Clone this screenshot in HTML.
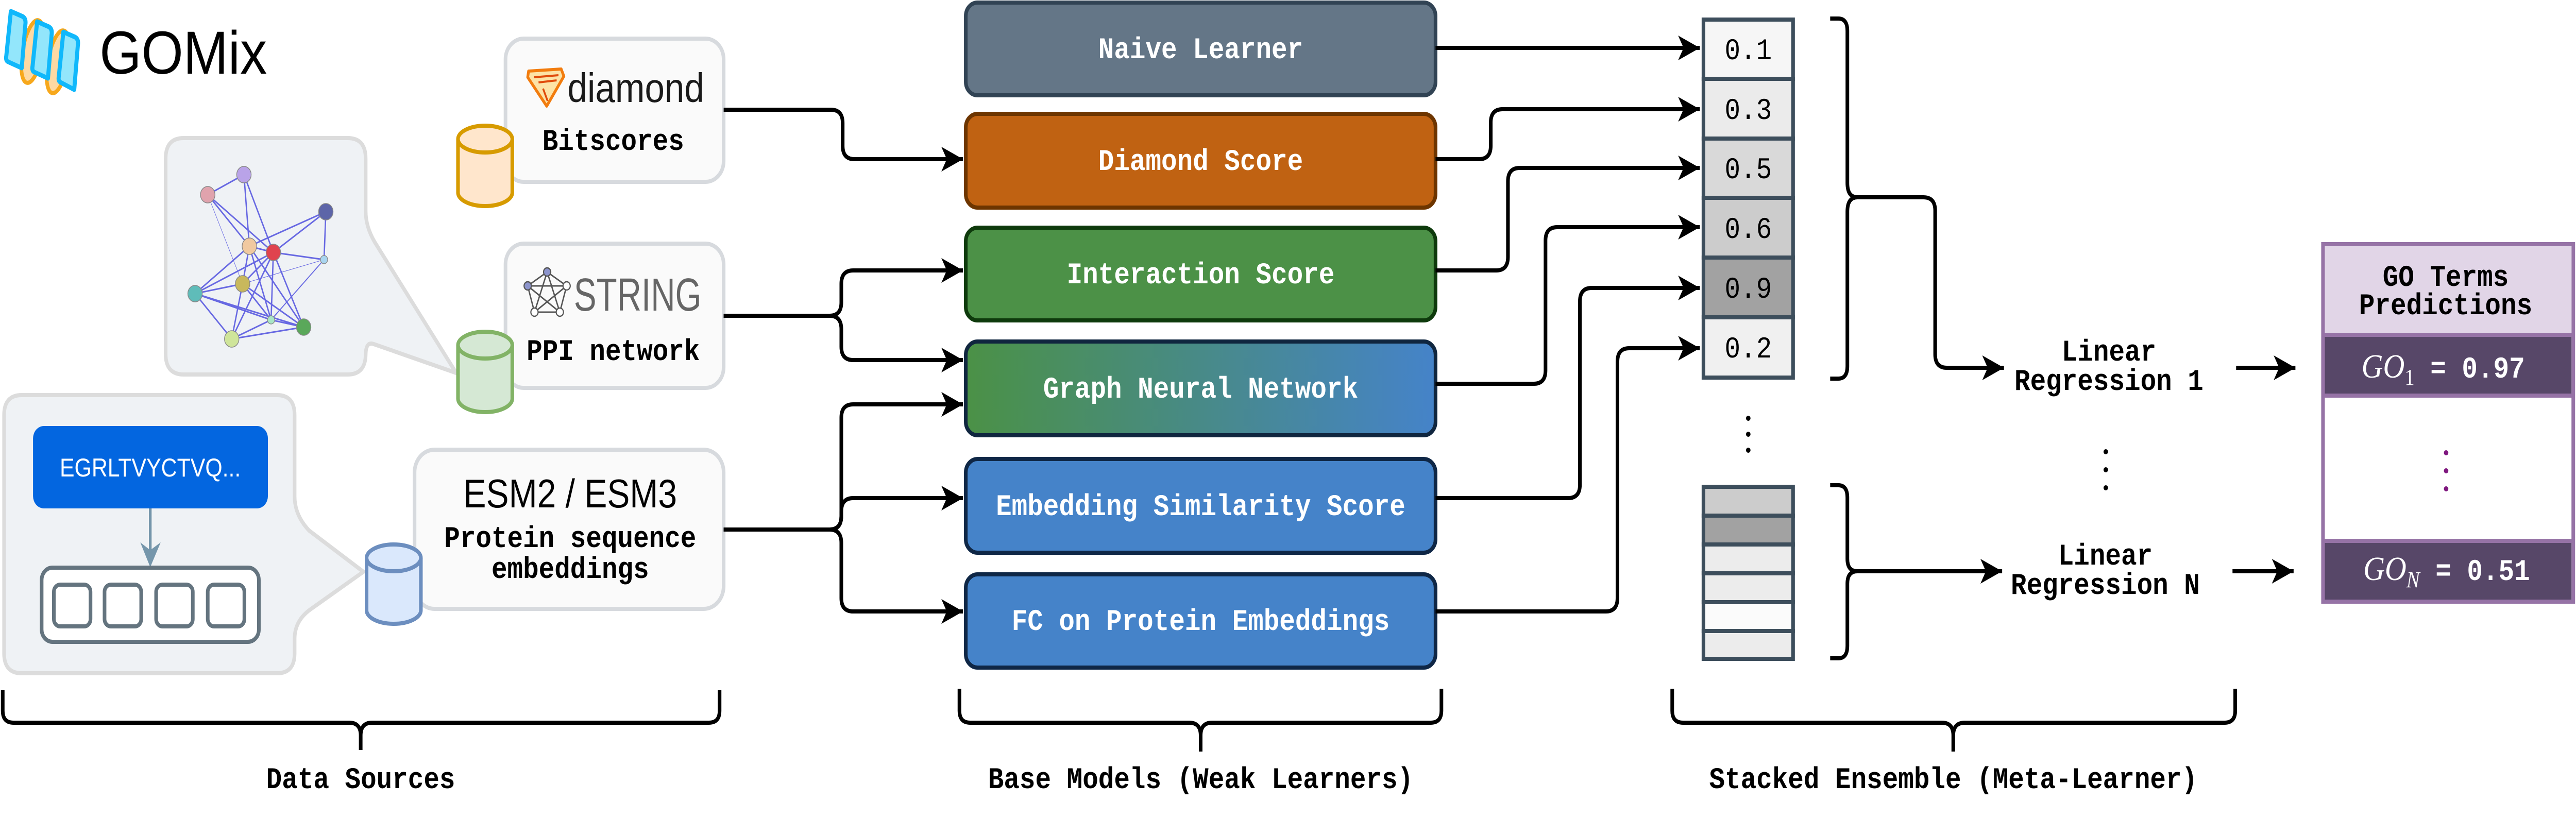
<!DOCTYPE html>
<html><head><meta charset="utf-8"><style>
html,body{margin:0;padding:0;background:#fff;overflow:hidden;width:100%;height:100%;}
svg{display:block;width:100vw;height:100vh;}
.m{font-family:"Liberation Mono",monospace;font-weight:bold;font-size:58px;}
.s{font-family:"Liberation Sans",sans-serif;}
</style></head><body>
<svg viewBox="0 0 5692 1588" preserveAspectRatio="none" xmlns="http://www.w3.org/2000/svg">
<defs>
<marker id="ar" markerUnits="userSpaceOnUse" markerWidth="50" markerHeight="50" refX="48" refY="24" orient="auto">
<path d="M0,0 L48,24 L0,48 L12,24 Z" fill="#000"/>
</marker>
<linearGradient id="gnn" x1="0" x2="1" y1="0" y2="0">
<stop offset="0" stop-color="#4b9146"/><stop offset="1" stop-color="#4583c9"/>
</linearGradient>
</defs>

<!-- Logo -->
<g>
<ellipse cx="72" cy="100" rx="22" ry="62" fill="#fdd9a3" stroke="#f7a81c" stroke-width="8" transform="rotate(12 72 100)"/>
<ellipse cx="128" cy="120" rx="22" ry="62" fill="#fdd9a3" stroke="#f7a81c" stroke-width="8" transform="rotate(12 128 120)"/>
<path d="M24,22 L50,32 Q58,36 56,48 L48,132 L18,120 Q12,118 14,108 Z" fill="#93e6fb" stroke="#10b8fb" stroke-width="9" stroke-linejoin="round"/>
<path d="M82,42 L108,52 Q116,56 114,68 L106,152 L76,140 Q70,138 72,128 Z" fill="#93e6fb" stroke="#10b8fb" stroke-width="9" stroke-linejoin="round"/>
<path d="M140,62 L166,72 Q174,76 172,88 L164,174 L134,160 Q128,158 130,148 Z" fill="#93e6fb" stroke="#10b8fb" stroke-width="9" stroke-linejoin="round"/>
<text x="220" y="143" class="s" font-size="118" fill="#000" textLength="370" lengthAdjust="spacingAndGlyphs">GOMix</text>
</g>

<!-- PPI callout -->
<path d="M406,268 H768 Q808,268 808,308 V410 Q808,440 828,470 L1008,724 L826,668 Q808,662 808,690 V687 Q808,727 768,727 H406 Q366,727 366,687 V308 Q366,268 406,268 Z" fill="#eff2f5" stroke="#dcdcdc" stroke-width="8" stroke-linejoin="round"/>
<g stroke="#3a3adc" stroke-width="3" opacity="0.75" fill="none">
<line x1="539" y1="339" x2="459" y2="378"/><line x1="539" y1="339" x2="604" y2="490"/><line x1="539" y1="339" x2="551" y2="478"/>
<line x1="459" y1="378" x2="551" y2="478"/><line x1="459" y1="378" x2="604" y2="490"/><line x1="459" y1="378" x2="536" y2="551" stroke-width="1"/>
<line x1="720" y1="411" x2="551" y2="478"/><line x1="720" y1="411" x2="604" y2="490"/><line x1="720" y1="411" x2="716" y2="504"/>
<line x1="551" y1="478" x2="604" y2="490"/><line x1="551" y1="478" x2="431" y2="570"/><line x1="551" y1="478" x2="536" y2="551"/><line x1="551" y1="478" x2="671" y2="635"/><line x1="551" y1="478" x2="599" y2="621"/>
<line x1="604" y1="490" x2="716" y2="504"/><line x1="604" y1="490" x2="431" y2="570"/><line x1="604" y1="490" x2="536" y2="551"/><line x1="604" y1="490" x2="512" y2="658"/><line x1="604" y1="490" x2="671" y2="635"/><line x1="604" y1="490" x2="599" y2="621"/>
<line x1="716" y1="504" x2="599" y2="621" stroke-width="2"/><line x1="716" y1="504" x2="536" y2="551" stroke-width="1"/>
<line x1="536" y1="551" x2="431" y2="570"/><line x1="536" y1="551" x2="512" y2="658"/><line x1="536" y1="551" x2="671" y2="635"/><line x1="536" y1="551" x2="599" y2="621"/>
<line x1="431" y1="570" x2="512" y2="658"/><line x1="431" y1="570" x2="599" y2="621"/><line x1="431" y1="570" x2="671" y2="635"/>
<line x1="512" y1="658" x2="671" y2="635"/><line x1="512" y1="658" x2="599" y2="621"/><line x1="599" y1="621" x2="671" y2="635"/>
</g>
<g stroke="#888" stroke-width="1.5">
<circle cx="539" cy="339" r="16" fill="#b9a3e8"/><circle cx="459" cy="378" r="16" fill="#e0a3ad"/>
<circle cx="720" cy="411" r="16" fill="#5d65a8"/><circle cx="551" cy="478" r="16" fill="#f0c9a0"/>
<circle cx="604" cy="490" r="16" fill="#e0434e"/><circle cx="716" cy="504" r="8" fill="#a9d5ef"/>
<circle cx="536" cy="551" r="16" fill="#c8b85c"/><circle cx="431" cy="570" r="16" fill="#5fbcb9"/>
<circle cx="599" cy="621" r="8" fill="#a8e6c6"/><circle cx="671" cy="635" r="16" fill="#5aa85a"/>
<circle cx="512" cy="658" r="16" fill="#cfe59a"/>
</g>

<!-- Embedding callout -->
<path d="M48,767 H612 Q651,767 651,806 V964 Q651,1000 683,1030 L803,1110 L686,1183 Q651,1205 651,1240 V1268 Q651,1307 612,1307 H48 Q9,1307 9,1268 V806 Q9,767 48,767 Z" fill="#eff2f5" stroke="#dcdcdc" stroke-width="8" stroke-linejoin="round"/>
<rect x="73" y="827" width="519" height="160" rx="24" fill="#0366e0"/>
<text x="332" y="925" class="s" font-size="50" fill="#fff" text-anchor="middle" textLength="400" lengthAdjust="spacingAndGlyphs">EGRLTVYCTVQ...</text>
<line x1="332" y1="987" x2="332" y2="1080" stroke="#7596ab" stroke-width="6"/>
<path d="M310,1053 L332,1101 L355,1053 L332,1068 Z" fill="#7596ab"/>
<rect x="92" y="1102" width="480" height="144" rx="24" fill="#fff" stroke="#64747f" stroke-width="8"/>
<rect x="119" y="1135" width="81" height="81" rx="14" fill="#fff" stroke="#64747f" stroke-width="8"/>
<rect x="231" y="1135" width="81" height="81" rx="14" fill="#fff" stroke="#64747f" stroke-width="8"/>
<rect x="345" y="1135" width="81" height="81" rx="14" fill="#fff" stroke="#64747f" stroke-width="8"/>
<rect x="459" y="1135" width="81" height="81" rx="14" fill="#fff" stroke="#64747f" stroke-width="8"/>

<!-- Data source boxes -->
<rect x="1117" y="75" width="482" height="278" rx="40" fill="#fafafa" stroke="#d7dade" stroke-width="8"/>
<path d="M1168,138 L1240,134 L1246,148 L1208,206 L1166,150 Z" fill="#fde3a6" stroke="#f27c0e" stroke-width="6" stroke-linejoin="round"/>
<path d="M1180,150 L1234,146 M1190,160 L1230,156 M1200,172 L1210,196" stroke="#e04a0a" stroke-width="4" fill="none"/>
<text x="1254" y="198" class="s" font-size="80" fill="#1a1a1a" textLength="302" lengthAdjust="spacingAndGlyphs">diamond</text>
<text x="1355" y="291" class="m" text-anchor="middle">Bitscores</text>

<rect x="1117" y="473" width="482" height="280" rx="40" fill="#fafafa" stroke="#d7dade" stroke-width="8"/>
<g stroke="#555" stroke-width="3" fill="none">
<path d="M1209,528 L1252,555 L1237,606 L1181,606 L1166,555 Z M1209,528 L1237,606 L1166,555 L1252,555 L1181,606 Z"/>
</g>
<g stroke="#555" stroke-width="2.5" fill="#fff">
<circle cx="1209" cy="528" r="8" fill="#8c94cc"/><circle cx="1252" cy="555" r="8"/><circle cx="1237" cy="606" r="8"/><circle cx="1181" cy="606" r="8"/><circle cx="1166" cy="555" r="8" fill="#8c94cc"/>
</g>
<text x="1268" y="603" class="s" font-size="90" fill="#666" textLength="282" lengthAdjust="spacingAndGlyphs">STRING</text>
<text x="1355" y="699" class="m" text-anchor="middle">PPI network</text>

<rect x="916" y="873" width="683" height="309" rx="44" fill="#fafafa" stroke="#d7dade" stroke-width="8"/>
<text x="1260" y="985" class="s" font-size="78" fill="#000" text-anchor="middle" textLength="472" lengthAdjust="spacingAndGlyphs">ESM2 / ESM3</text>
<text x="1260" y="1062" class="m" text-anchor="middle">Protein sequence</text>
<text x="1260" y="1122" class="m" text-anchor="middle">embeddings</text>

<!-- Cylinders -->
<g stroke-width="8">
<path d="M1012,270 V374 A60,26 0 0 0 1132,374 V270" fill="#ffe6cc" stroke="#d79b00"/>
<ellipse cx="1072" cy="270" rx="60" ry="26" fill="#ffe6cc" stroke="#d79b00"/>
<path d="M1012,670 V774 A60,26 0 0 0 1132,774 V670" fill="#d5e8d4" stroke="#82b366"/>
<ellipse cx="1072" cy="670" rx="60" ry="26" fill="#d5e8d4" stroke="#82b366"/>
<path d="M810,1083 V1185 A60,26 0 0 0 930,1185 V1083" fill="#dae8fc" stroke="#6c8ebf"/>
<ellipse cx="870" cy="1083" rx="60" ry="26" fill="#dae8fc" stroke="#6c8ebf"/>
</g>

<!-- Source -> base model connectors -->
<g fill="none" stroke="#000" stroke-width="8" stroke-linejoin="round">
<path d="M1599,213 H1836 Q1862,213 1862,239 V283 Q1862,309 1888,309 H2128" marker-end="url(#ar)"/>
<path d="M1599,613 H1833 Q1859,613 1859,587 V551 Q1859,525 1885,525 H2128" marker-end="url(#ar)"/>
<path d="M1599,613 H1833 Q1859,613 1859,639 V673 Q1859,699 1885,699 H2128" marker-end="url(#ar)"/>
<path d="M1599,1028 H1833 Q1859,1028 1859,1002 V811 Q1859,785 1885,785 H2128" marker-end="url(#ar)"/>
<path d="M1599,1028 H1833 Q1859,1028 1859,1002 V993 Q1859,967 1885,967 H2128" marker-end="url(#ar)"/>
<path d="M1599,1028 H1833 Q1859,1028 1859,1054 V1161 Q1859,1187 1885,1187 H2128" marker-end="url(#ar)"/>
</g>

<!-- Base models -->
<g stroke-width="8">
<rect x="2134" y="5" width="1038" height="180" rx="26" fill="#647687" stroke="#314354"/>
<rect x="2134" y="221" width="1038" height="182" rx="26" fill="#c06212" stroke="#6d3500"/>
<rect x="2134" y="442" width="1038" height="180" rx="26" fill="#4c9147" stroke="#0e3a0c"/>
<rect x="2134" y="663" width="1038" height="182" rx="26" fill="url(#gnn)" stroke="#10263f"/>
<rect x="2134" y="891" width="1038" height="182" rx="26" fill="#4583c9" stroke="#0f2746"/>
<rect x="2134" y="1115" width="1038" height="181" rx="26" fill="#4583c9" stroke="#0f2746"/>
</g>
<g class="m" fill="#fff" text-anchor="middle">
<text x="2653" y="113">Naive Learner</text>
<text x="2653" y="330">Diamond Score</text>
<text x="2653" y="550">Interaction Score</text>
<text x="2653" y="772">Graph Neural Network</text>
<text x="2653" y="1000">Embedding Similarity Score</text>
<text x="2653" y="1223">FC on Protein Embeddings</text>
</g>

<!-- base -> cells -->
<g fill="none" stroke="#000" stroke-width="8" stroke-linejoin="round">
<path d="M3172,93 H3756" marker-end="url(#ar)"/>
<path d="M3172,309 H3268 Q3294,309 3294,283 V238 Q3294,212 3320,212 H3756" marker-end="url(#ar)"/>
<path d="M3172,525 H3306 Q3332,525 3332,499 V352 Q3332,326 3358,326 H3756" marker-end="url(#ar)"/>
<path d="M3172,745 H3389 Q3415,745 3415,719 V467 Q3415,441 3441,441 H3756" marker-end="url(#ar)"/>
<path d="M3172,967 H3465 Q3491,967 3491,941 V585 Q3491,559 3517,559 H3756" marker-end="url(#ar)"/>
<path d="M3172,1187 H3548 Q3574,1187 3574,1161 V702 Q3574,676 3600,676 H3756" marker-end="url(#ar)"/>
</g>

<!-- cells -->
<g stroke="#3d4e5c" stroke-width="8">
<rect x="3764" y="38" width="198" height="115" fill="#f6f6f6"/>
<rect x="3764" y="153" width="198" height="116" fill="#ebebeb"/>
<rect x="3764" y="269" width="198" height="115" fill="#d9d9d9"/>
<rect x="3764" y="384" width="198" height="116" fill="#cccccc"/>
<rect x="3764" y="500" width="198" height="116" fill="#a2a2a2"/>
<rect x="3764" y="616" width="198" height="117" fill="#f0f0f0"/>
</g>
<g font-family="Liberation Mono,monospace" font-size="58" fill="#000" text-anchor="middle">
<text x="3863" y="115">0.1</text><text x="3863" y="231">0.3</text><text x="3863" y="346">0.5</text>
<text x="3863" y="462">0.6</text><text x="3863" y="578">0.9</text><text x="3863" y="694">0.2</text>
</g>
<g fill="#000"><circle cx="3863" cy="812" r="5"/><circle cx="3863" cy="843" r="5"/><circle cx="3863" cy="874" r="5"/></g>
<g stroke="#3d4e5c" stroke-width="8">
<rect x="3764" y="945" width="198" height="56" fill="#cccccc"/>
<rect x="3764" y="1001" width="198" height="56" fill="#a2a2a2"/>
<rect x="3764" y="1057" width="198" height="56" fill="#ececec"/>
<rect x="3764" y="1113" width="198" height="56" fill="#ececec"/>
<rect x="3764" y="1169" width="198" height="56" fill="#fbfbfb"/>
<rect x="3764" y="1225" width="198" height="54" fill="#ececec"/>
</g>

<!-- vertical braces and meta connectors -->
<g fill="none" stroke="#000" stroke-width="8" stroke-linejoin="round">
<path d="M4044,36 H4062 Q4082,36 4082,60 V355 Q4082,383 4104,383 Q4082,383 4082,411 V711 Q4082,735 4062,735 H4044"/>
<path d="M4104,383 H4250 Q4276,383 4276,409 V688 Q4276,714 4302,714 H4428" marker-end="url(#ar)"/>
<path d="M4044,942 H4062 Q4082,942 4082,966 V1085 Q4082,1109 4104,1109 Q4082,1109 4082,1133 V1254 Q4082,1278 4062,1278 H4044"/>
<path d="M4104,1109 H4424" marker-end="url(#ar)"/>
<path d="M4941,714 H5072" marker-end="url(#ar)"/>
<path d="M4933,1109 H5068" marker-end="url(#ar)"/>
</g>
<g class="m" fill="#000" text-anchor="middle">
<text x="4660" y="700">Linear</text><text x="4660" y="757">Regression 1</text>
<text x="4652" y="1096">Linear</text><text x="4652" y="1153">Regression N</text>
</g>
<g fill="#000"><circle cx="4653" cy="877" r="5"/><circle cx="4653" cy="912" r="5"/><circle cx="4653" cy="947" r="5"/></g>

<!-- GO box -->
<rect x="5133" y="474" width="553" height="694" fill="#fff" stroke="#9673a6" stroke-width="8"/>
<rect x="5137" y="478" width="545" height="170" fill="#e1d5e7"/>
<line x1="5133" y1="650" x2="5686" y2="650" stroke="#9673a6" stroke-width="8"/>
<rect x="5137" y="654" width="545" height="112" fill="#574768"/>
<line x1="5133" y1="768" x2="5686" y2="768" stroke="#9673a6" stroke-width="8"/>
<line x1="5133" y1="1050" x2="5686" y2="1050" stroke="#9673a6" stroke-width="8"/>
<rect x="5137" y="1054" width="545" height="110" fill="#574768"/>
<g class="m" fill="#000" text-anchor="middle">
<text x="5404" y="555">GO Terms</text><text x="5404" y="610">Predictions</text>
</g>
<text x="5218" y="733" fill="#fff"><tspan font-family="Liberation Serif,serif" font-style="italic" font-size="66">GO</tspan><tspan font-family="Liberation Serif,serif" font-size="44" dy="14">1</tspan><tspan class="m" dy="-14"> = 0.97</tspan></text>
<text x="5222" y="1126" fill="#fff"><tspan font-family="Liberation Serif,serif" font-style="italic" font-size="66">GO</tspan><tspan font-family="Liberation Serif,serif" font-style="italic" font-size="44" dy="14">N</tspan><tspan class="m" dy="-14"> = 0.51</tspan></text>
<g fill="#7f187f"><circle cx="5405" cy="879" r="5"/><circle cx="5405" cy="914" r="5"/><circle cx="5405" cy="949" r="5"/></g>

<!-- bottom braces -->
<g fill="none" stroke="#000" stroke-width="8" stroke-linejoin="round">
<path d="M6,1340 V1380 Q6,1403 30,1403 H772 Q797,1403 797,1428 V1456 M797,1428 Q797,1403 822,1403 H1566 Q1590,1403 1590,1380 V1340"/>
<path d="M2120,1337 V1380 Q2120,1403 2144,1403 H2628 Q2653,1403 2653,1428 V1459 M2653,1428 Q2653,1403 2678,1403 H3161 Q3185,1403 3185,1380 V1337"/>
<path d="M3695,1337 V1380 Q3695,1403 3719,1403 H4291 Q4316,1403 4316,1428 V1459 M4316,1428 Q4316,1403 4341,1403 H4915 Q4939,1403 4939,1380 V1337"/>
</g>
<g class="m" fill="#000" text-anchor="middle">
<text x="797" y="1530">Data Sources</text>
<text x="2653" y="1530">Base Models (Weak Learners)</text>
<text x="4316" y="1530">Stacked Ensemble (Meta-Learner)</text>
</g>
</svg>
</body></html>
